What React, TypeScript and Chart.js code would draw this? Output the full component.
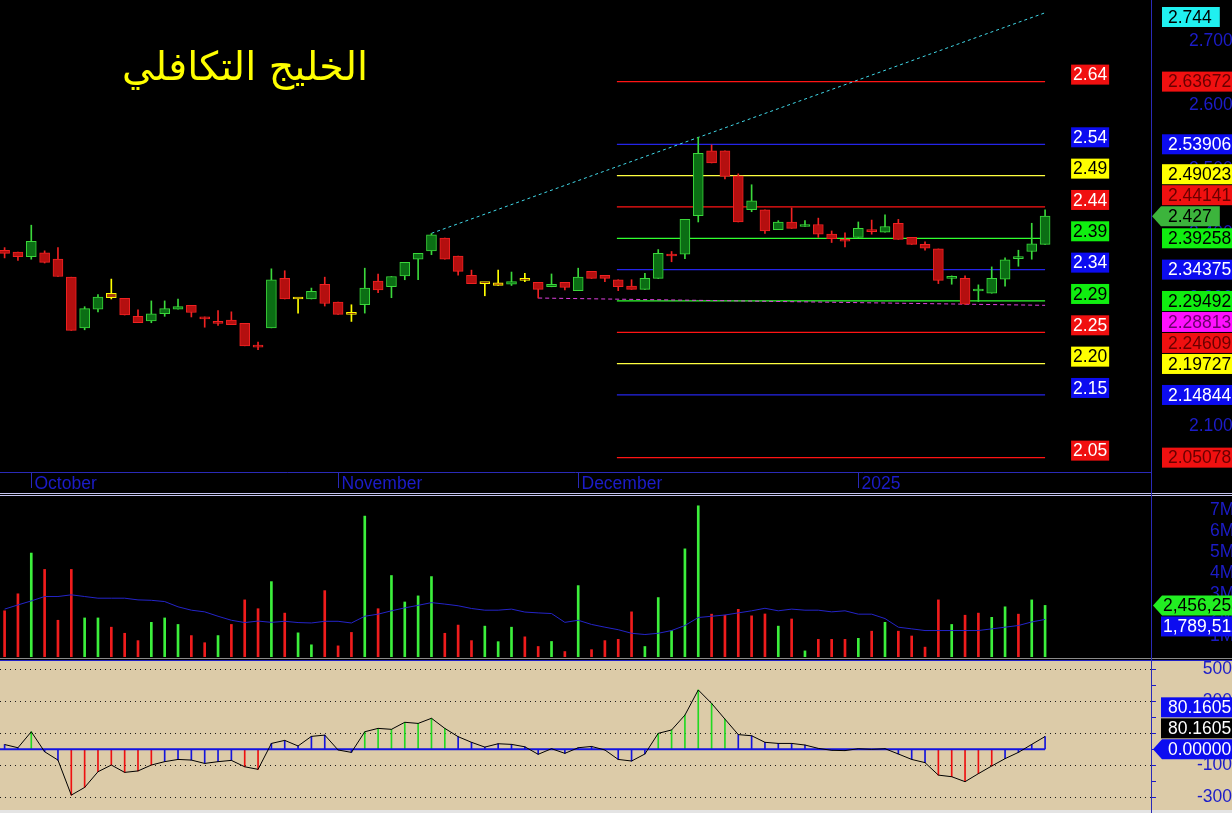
import React, { useEffect, useRef } from "react";
import { Chart, registerables } from "chart.js";

Chart.register(...registerables);

// ---------------- data ----------------
const TITLE = "الخليج التكافلي";
const MONTH_TICKS = [2, 25, 43, 64];
const MONTH_LABELS = ["October", "November", "December", "2025"];

const OPEN = [2.374, 2.371, 2.364, 2.370, 2.360, 2.332, 2.253, 2.282, 2.307, 2.299,
  2.271, 2.264, 2.275, 2.282, 2.288, 2.270, 2.261, 2.265, 2.260, 2.224,
  2.253, 2.330, 2.298, 2.298, 2.321, 2.293, 2.274, 2.289, 2.326, 2.317,
  2.334, 2.360, 2.373, 2.393, 2.365, 2.335, 2.322, 2.323, 2.321, 2.327,
  2.324, 2.317, 2.324, 2.311, 2.341, 2.335, 2.328, 2.318, 2.313, 2.330,
  2.368, 2.368, 2.428, 2.529, 2.529, 2.490, 2.437, 2.437, 2.406, 2.418,
  2.411, 2.414, 2.399, 2.391, 2.394, 2.406, 2.402, 2.416, 2.394, 2.383,
  2.376, 2.330, 2.330, 2.3105, 2.307, 2.329, 2.361, 2.372, 2.383];
const HIGH = [2.378, 2.371, 2.413, 2.373, 2.378, 2.332, 2.286, 2.305, 2.329, 2.299,
  2.281, 2.295, 2.295, 2.298, 2.288, 2.270, 2.280, 2.278, 2.260, 2.231,
  2.345, 2.342, 2.298, 2.315, 2.332, 2.293, 2.289, 2.346, 2.337, 2.333,
  2.355, 2.369, 2.400, 2.393, 2.365, 2.343, 2.322, 2.343, 2.340, 2.338,
  2.324, 2.337, 2.324, 2.346, 2.341, 2.335, 2.328, 2.328, 2.338, 2.375,
  2.372, 2.422, 2.550, 2.538, 2.529, 2.493, 2.476, 2.437, 2.420, 2.440,
  2.420, 2.424, 2.404, 2.401, 2.418, 2.421, 2.429, 2.422, 2.394, 2.387,
  2.376, 2.334, 2.334, 2.320, 2.348, 2.362, 2.374, 2.416, 2.437];
const LOW = [2.362, 2.358, 2.360, 2.354, 2.333, 2.249, 2.250, 2.278, 2.298, 2.273,
  2.261, 2.261, 2.271, 2.282, 2.270, 2.254, 2.257, 2.258, 2.225, 2.219,
  2.253, 2.298, 2.276, 2.298, 2.287, 2.274, 2.263, 2.276, 2.308, 2.300,
  2.328, 2.328, 2.367, 2.360, 2.335, 2.322, 2.303, 2.319, 2.319, 2.325,
  2.2995, 2.317, 2.312, 2.311, 2.330, 2.325, 2.311, 2.313, 2.313, 2.330,
  2.356, 2.361, 2.418, 2.510, 2.485, 2.418, 2.434, 2.400, 2.406, 2.408,
  2.411, 2.394, 2.386, 2.379, 2.394, 2.399, 2.402, 2.391, 2.383, 2.374,
  2.322, 2.321, 2.2895, 2.294, 2.307, 2.318, 2.349, 2.360, 2.383];
const CLOSE = [2.369, 2.364, 2.388, 2.355, 2.333, 2.249, 2.283, 2.301, 2.300, 2.273,
  2.261, 2.275, 2.283, 2.286, 2.277, 2.267, 2.260, 2.258, 2.225, 2.223,
  2.328, 2.298, 2.298, 2.310, 2.291, 2.274, 2.274, 2.315, 2.312, 2.333,
  2.355, 2.369, 2.398, 2.360, 2.341, 2.322, 2.322, 2.319, 2.325, 2.327,
  2.313, 2.321, 2.316, 2.332, 2.330, 2.330, 2.317, 2.313, 2.330, 2.369,
  2.365, 2.422, 2.525, 2.510, 2.489, 2.418, 2.451, 2.404, 2.418, 2.408,
  2.413, 2.399, 2.392, 2.388, 2.408, 2.403, 2.411, 2.391, 2.383, 2.377,
  2.327, 2.330, 2.290, 2.311, 2.330, 2.359, 2.3615, 2.384, 2.427];
// g = up, r = down, y = unchanged
const CANDLE_KIND = ("rrgrrrggyr" + "rgggrrrrrr" + "grygrrygrg" + "gggrrryygy" +
  "rgrgrrrrgg" + "rggrrrgrgr" + "grrrgrgrrr" + "rgrgggggg").split("");

// volume in millions
const VOLUME = [2.20, 3.01, 4.95, 4.17, 1.75, 4.17, 1.86, 1.86, 1.42, 1.13,
  0.78, 1.65, 1.86, 1.55, 1.02, 0.68, 1.02, 1.55, 2.72, 2.30,
  3.59, 2.09, 1.15, 0.58, 3.16, 0.53, 1.17, 6.71, 2.30, 3.88,
  2.62, 2.91, 3.83, 1.13, 1.52, 0.78, 1.47, 0.73, 1.42, 0.96,
  0.50, 0.74, 0.26, 3.40, 0.35, 0.78, 0.84, 2.15, 0.50, 2.83,
  1.26, 5.15, 7.20, 2.04, 1.99, 2.27, 1.96, 2.05, 1.47, 1.81,
  0.29, 0.84, 0.84, 0.84, 0.89, 1.23, 1.65, 1.23, 1.00, 0.47,
  2.72, 1.55, 1.99, 2.09, 1.89, 2.39, 2.04, 2.72, 2.456253];
const VOLUME_DIR = ("rrgrrrggrr" + "rgggrrgrrr" + "grggrrrgrg" + "gggrrrgggr" +
  "rgrgrrrrgg" + "gggrrrrrgr" + "grrrgrgrrr" + "rgrrggrgg").split("");
const VOLUME_MA = [2.28, 2.48, 2.67, 2.88, 2.88, 2.96, 2.88, 2.80, 2.80, 2.80,
  2.72, 2.70, 2.64, 2.39, 2.23, 2.15, 1.94, 1.75, 1.64, 1.71,
  1.65, 1.70, 1.64, 1.62, 1.70, 1.70, 1.62, 1.94, 2.04, 2.20,
  2.34, 2.46, 2.59, 2.52, 2.44, 2.31, 2.23, 2.23, 2.28, 2.14,
  2.10, 2.07, 1.65, 1.75, 1.55, 1.42, 1.30, 1.13, 1.07, 1.13,
  1.26, 1.50, 1.88, 1.94, 2.00, 2.10, 2.20, 2.32, 2.20, 2.28,
  2.23, 2.23, 2.15, 2.20, 2.04, 2.04, 1.83, 1.42, 1.34, 1.26,
  1.26, 1.26, 1.26, 1.26, 1.34, 1.42, 1.50, 1.67, 1.789512];

const OSC = [30, 10, 110, -15, -67, -286, -238, -140, -98, -144,
  -135, -98, -77, -63, -67, -88, -77, -69, -109, -125,
  37, 56, 21, 81, 89, -4, -19, 110, 131, 125,
  169, 162, 194, 131, 79, 44, 14, 35, 31, 16,
  -31, 4, -25, 10, 18, -4, -63, -73, -29, 100,
  121, 214, 371, 287, 189, 92, 85, 44, 37, 37,
  27, 6, -6, -8, 4, 0, 4, -29, -63, -83,
  -161, -171, -202, -152, -104, -58, -19, 31, 80.1605];
const OSC_SIGNAL_LAST = 80.1605;
const OSC_THRESHOLD = 95;

const FIB_LEVELS = [2.63672, 2.53906, 2.49023, 2.44141, 2.39258, 2.34375, 2.29492, 2.24609, 2.19727, 2.14844, 2.05078];
const FIB_SHORT = ["2.64", "2.54", "2.49", "2.44", "2.39", "2.34", "2.29", "2.25", "2.20", "2.15", "2.05"];
const FIB_TONE = ["red", "blue", "yellow", "red", "green", "blue", "green", "red", "yellow", "blue", "red"];
const FIB_X = [45.9, 78];
const FIB_LABEL_AT = 79.95;

const TREND_UP_X = [32, 78];
const TREND_UP_Y = [2.4003, 2.744];
const TREND_DOWN_X = [40, 78];
const TREND_DOWN_Y = [2.2995, 2.28813];

const PRICE_TICKS = [2.1, 2.2, 2.3, 2.4, 2.5, 2.6, 2.7];
const VOLUME_TICKS = [1, 2, 3, 4, 5, 6, 7];
const OSC_TICKS = [-300, -200, -100, 0, 100, 200, 300, 400, 500];
const OSC_GRID = [500, 300, 100, -100, -300];

// ---------------- style / layout ----------------
const W = 1232;
const AXIS_W = 81;
const FONT = '"Liberation Sans", Arial, sans-serif';
const AXIS_BLUE = "#1c1cc8";
const FRAME_BLUE = "#2a2ab8";
const X_MIN = -0.345;
const X_MAX = 85.94;
const P_MIN = 2.0284;
const P_MAX = 2.7639;
const V_MAX = 7.667;
const O_MIN = -379;
const O_MAX = 552;

const CANDLE_COLORS: any = {
  g: { fill: "#0b6e14", edge: "#3bd83b" },
  r: { fill: "#b40f0f", edge: "#f02222" },
  y: { fill: "#a8400c", edge: "#ffff00" },
};
const TONES: any = {
  red: { line: "#ff1414", box: "#f01010", shortText: "#ffffff", axisText: "#6a0000" },
  blue: { line: "#2424e8", box: "#0c0cf0", shortText: "#ffffff", axisText: "#ffffff" },
  yellow: { line: "#ffff40", box: "#ffff00", shortText: "#000000", axisText: "#000000" },
  green: { line: "#30ff30", box: "#10ee10", shortText: "#000000", axisText: "#000000" },
};

const IDX = OPEN.map((_, i) => i);
const LAST = IDX.length - 1;

type Marker = { value: number; text: string; bg: string; fg: string; arrow?: boolean };

function placeMarkers(ys: number[], anchorIdx: number, gap: number, minCenter: number) {
  const order = ys.map((y, k) => ({ y, k })).sort((a, b) => a.y - b.y);
  const pos = order.map((o) => o.y);
  const ai = order.findIndex((o) => o.k === anchorIdx);
  if (ai >= 0) {
    for (let j = ai + 1; j < pos.length; j++) pos[j] = Math.max(pos[j], pos[j - 1] + gap);
    for (let j = ai - 1; j >= 0; j--) pos[j] = Math.min(pos[j], pos[j + 1] - gap);
  } else {
    for (let j = 1; j < pos.length; j++) pos[j] = Math.max(pos[j], pos[j - 1] + gap);
  }
  if (pos.length && pos[0] < minCenter) {
    pos[0] = minCenter;
    for (let j = 1; j < pos.length; j++) pos[j] = Math.max(pos[j], pos[j - 1] + gap);
  }
  const out: number[] = new Array(ys.length);
  order.forEach((o, j) => (out[o.k] = pos[j]));
  return out;
}

function drawMarkers(ctx: any, yScale: any, markers: Marker[], o: any) {
  const ys = markers.map((m) => yScale.getPixelForValue(m.value));
  const anchor = markers.findIndex((m) => m.arrow);
  const centers = placeMarkers(ys, anchor, o.gap, o.minCenter);
  ctx.save();
  ctx.font = `17.5px ${FONT}`;
  ctx.textBaseline = "middle";
  ctx.textAlign = "left";
  markers.forEach((m, k) => {
    const cy = centers[k];
    const h = 20;
    const tw = ctx.measureText(m.text).width;
    const right = o.textX + tw + 8;
    ctx.fillStyle = m.bg;
    if (m.arrow) {
      ctx.beginPath();
      ctx.moveTo(o.arrowTip, cy);
      ctx.lineTo(o.arrowTip + 9, cy - h / 2);
      ctx.lineTo(right, cy - h / 2);
      ctx.lineTo(right, cy + h / 2);
      ctx.lineTo(o.arrowTip + 9, cy + h / 2);
      ctx.closePath();
      ctx.fill();
    } else {
      ctx.fillRect(o.boxLeft, cy - h / 2, right - o.boxLeft, h);
    }
    ctx.fillStyle = m.fg;
    ctx.fillText(m.text, o.textX, cy + 1);
  });
  ctx.restore();
}

const xAxis: any = { type: "linear", min: X_MIN, max: X_MAX, display: false, offset: false };

function rightAxis(min: number, max: number, ticks: number[], fmt: (v: number) => string, extra: any) {
  return {
    type: "linear",
    position: "right",
    min,
    max,
    border: { display: false },
    grid: { display: false, drawTicks: false },
    ...extra,
    ticks: {
      color: AXIS_BLUE,
      font: { family: FONT, size: 17.5 },
      autoSkip: false,
      callback: (v: any) => fmt(Number(v)),
      ...(extra.ticks || {}),
    },
    afterBuildTicks: (s: any) => {
      s.ticks = ticks.map((v) => ({ value: v }));
    },
    afterFit: (s: any) => {
      s.width = AXIS_W;
      s.paddingTop = 0;
      s.paddingBottom = 0;
    },
  };
}

function priceConfig(): any {
  const datasets: any[] = [
    {
      type: "bar",
      data: IDX.map((i) => ({ x: i, y: [OPEN[i], CLOSE[i]] })),
      backgroundColor: CANDLE_KIND.map((k) => CANDLE_COLORS[k].fill),
      borderColor: CANDLE_KIND.map((k) => CANDLE_COLORS[k].edge),
      borderWidth: 1,
      borderSkipped: false,
      barThickness: 10,
      minBarLength: 2,
      grouped: false,
      order: 0,
    },
    {
      type: "bar",
      data: IDX.map((i) => ({ x: i, y: [LOW[i], HIGH[i]] })),
      backgroundColor: CANDLE_KIND.map((k) => CANDLE_COLORS[k].edge),
      barThickness: 1,
      grouped: false,
      order: 1,
    },
    {
      type: "line",
      data: TREND_UP_X.map((x, k) => ({ x, y: TREND_UP_Y[k] })),
      borderColor: "#40d8e8",
      borderWidth: 1,
      borderDash: [3, 3],
      pointRadius: 0,
      order: 2,
    },
    {
      type: "line",
      data: TREND_DOWN_X.map((x, k) => ({ x, y: TREND_DOWN_Y[k] })),
      borderColor: "#e040e0",
      borderWidth: 1,
      borderDash: [4, 3],
      pointRadius: 0,
      order: 3,
    },
    ...FIB_LEVELS.map((lvl, k) => ({
      type: "line",
      data: FIB_X.map((x) => ({ x, y: lvl })),
      borderColor: TONES[FIB_TONE[k]].line,
      borderWidth: 1.2,
      pointRadius: 0,
      order: 4,
    })),
  ];

  const decor = {
    id: "priceDecor",
    afterDraw(chart: any) {
      const { ctx, chartArea, scales } = chart;
      const xs = scales.x;
      const ys = scales.y;
      ctx.save();
      // bottom frame line
      ctx.strokeStyle = FRAME_BLUE;
      ctx.lineWidth = 1;
      ctx.beginPath();
      ctx.moveTo(chartArea.left, chartArea.bottom + 0.5);
      ctx.lineTo(chartArea.right, chartArea.bottom + 0.5);
      ctx.stroke();
      // month ticks and labels
      ctx.font = `17.5px ${FONT}`;
      ctx.fillStyle = AXIS_BLUE;
      ctx.textAlign = "left";
      ctx.textBaseline = "alphabetic";
      MONTH_TICKS.forEach((m, k) => {
        const px = Math.round(xs.getPixelForValue(m)) + 0.5;
        ctx.beginPath();
        ctx.moveTo(px, chartArea.bottom);
        ctx.lineTo(px, chartArea.bottom + 16);
        ctx.stroke();
        ctx.fillText(MONTH_LABELS[k], px + 3, chartArea.bottom + 17);
      });
      // title
      let size = 36;
      ctx.font = `${size}px "DejaVu Sans"`;
      const tw = ctx.measureText(TITLE).width;
      size = (size * 246) / tw;
      ctx.font = `${size}px "DejaVu Sans"`;
      ctx.fillStyle = "#ffff00";
      ctx.textAlign = "right";
      ctx.fillText(TITLE, 368, 80);
      // fib short labels
      ctx.font = `17.5px ${FONT}`;
      ctx.textAlign = "left";
      ctx.textBaseline = "middle";
      const lx = xs.getPixelForValue(FIB_LABEL_AT);
      FIB_LEVELS.forEach((lvl, k) => {
        const y = ys.getPixelForValue(lvl);
        const t = TONES[FIB_TONE[k]];
        const w = ctx.measureText(FIB_SHORT[k]).width + 4;
        ctx.fillStyle = t.box;
        ctx.fillRect(lx, y - 17, w, 20);
        ctx.fillStyle = t.shortText;
        ctx.fillText(FIB_SHORT[k], lx + 2, y - 6);
      });
      ctx.restore();
      // right axis markers
      const markers: Marker[] = [
        { value: TREND_UP_Y[1], text: TREND_UP_Y[1].toFixed(3), bg: "#20f0f0", fg: "#000" },
        ...FIB_LEVELS.map((lvl, k) => ({
          value: lvl,
          text: lvl.toFixed(5),
          bg: TONES[FIB_TONE[k]].box,
          fg: TONES[FIB_TONE[k]].axisText,
        })),
        { value: TREND_DOWN_Y[1], text: TREND_DOWN_Y[1].toFixed(5), bg: "#ff10ff", fg: "#6a006a" },
        { value: CLOSE[LAST], text: CLOSE[LAST].toFixed(3), bg: "#3cb43c", fg: "#000", arrow: true },
      ];
      drawMarkers(ctx, ys, markers, {
        gap: 21,
        minCenter: chartArea.top + 17,
        boxLeft: chartArea.right + 11,
        textX: chartArea.right + 17,
        arrowTip: chartArea.right + 1,
      });
    },
  };

  return {
    type: "bar",
    data: { datasets },
    options: {
      responsive: false,
      animation: false,
      layout: { padding: { left: 0, right: 0, top: 0, bottom: 20 } },
      plugins: { legend: { display: false }, tooltip: { enabled: false } },
      scales: {
        x: xAxis,
        y: rightAxis(P_MIN, P_MAX, PRICE_TICKS, (v) => v.toFixed(3), { ticks: { padding: 38, crossAlign: "near" } }),
      },
    },
    plugins: [decor],
  };
}

function volumeConfig(): any {
  const decor = {
    id: "volDecor",
    afterDraw(chart: any) {
      const { ctx, chartArea, scales } = chart;
      const fmt = (v: number) => Math.round(v * 1e6).toLocaleString("en-US");
      drawMarkers(ctx, scales.y, [
        { value: VOLUME[LAST], text: fmt(VOLUME[LAST]), bg: "#22ee22", fg: "#000", arrow: true },
        { value: VOLUME_MA[LAST], text: fmt(VOLUME_MA[LAST]), bg: "#0c0cf0", fg: "#fff" },
      ], {
        gap: 21,
        minCenter: chartArea.top + 10,
        boxLeft: chartArea.right + 10,
        textX: chartArea.right + 12,
        arrowTip: chartArea.right + 2,
      });
    },
  };
  return {
    type: "bar",
    data: {
      datasets: [
        {
          type: "line",
          data: IDX.map((i) => ({ x: i, y: VOLUME_MA[i] })),
          borderColor: "#2424c8",
          borderWidth: 1,
          pointRadius: 0,
          order: 0,
        },
        {
          type: "bar",
          data: IDX.map((i) => ({ x: i, y: VOLUME[i] })),
          backgroundColor: VOLUME_DIR.map((d) => (d === "g" ? "#3cf03c" : "#f01c1c")),
          barThickness: 2,
          grouped: false,
          order: 1,
        },
      ],
    },
    options: {
      responsive: false,
      animation: false,
      layout: { padding: 0 },
      plugins: { legend: { display: false }, tooltip: { enabled: false } },
      scales: {
        x: xAxis,
        y: rightAxis(0, V_MAX, VOLUME_TICKS, (v) => `${v}M`, { ticks: { padding: 59, crossAlign: "near" } }),
      },
    },
    plugins: [decor],
  };
}

function oscConfig(): any {
  const decor = {
    id: "oscDecor",
    beforeDatasetsDraw(chart: any) {
      const { ctx, chartArea, scales } = chart;
      ctx.save();
      ctx.strokeStyle = "#1a1a1a";
      ctx.lineWidth = 1;
      ctx.setLineDash([1, 4]);
      OSC_GRID.forEach((v) => {
        const y = Math.round(scales.y.getPixelForValue(v)) + 0.5;
        ctx.beginPath();
        ctx.moveTo(chartArea.left, y);
        ctx.lineTo(chartArea.right, y);
        ctx.stroke();
      });
      ctx.restore();
    },
    afterDraw(chart: any) {
      const { ctx, chartArea, scales } = chart;
      drawMarkers(ctx, scales.y, [
        { value: OSC_SIGNAL_LAST, text: OSC_SIGNAL_LAST.toFixed(4), bg: "#0c0cf0", fg: "#fff" },
        { value: OSC[LAST], text: OSC[LAST].toFixed(4), bg: "#000", fg: "#fff" },
        { value: 0, text: (0).toFixed(5), bg: "#0c0cf0", fg: "#fff", arrow: true },
      ], {
        gap: 21,
        minCenter: chartArea.top + 10,
        boxLeft: chartArea.right + 10,
        textX: chartArea.right + 17,
        arrowTip: chartArea.right + 2,
      });
    },
  };
  return {
    type: "bar",
    data: {
      datasets: [
        {
          type: "line",
          data: IDX.map((i) => ({ x: i, y: OSC[i] })),
          borderColor: "#000000",
          borderWidth: 1,
          pointRadius: 0,
          order: 0,
        },
        {
          type: "line",
          data: [{ x: -1, y: 0 }, { x: LAST, y: 0 }],
          borderColor: "#1414e0",
          borderWidth: 2,
          pointRadius: 0,
          order: 1,
        },
        {
          type: "bar",
          data: IDX.map((i) => ({ x: i, y: OSC[i] })),
          backgroundColor: OSC.map((v) => (v >= OSC_THRESHOLD ? "#22d822" : v <= -OSC_THRESHOLD ? "#ee1010" : "#1414dc")),
          barThickness: 1,
          grouped: false,
          order: 2,
        },
      ],
    },
    options: {
      responsive: false,
      animation: false,
      layout: { padding: 0 },
      plugins: { legend: { display: false }, tooltip: { enabled: false } },
      scales: {
        x: xAxis,
        y: rightAxis(O_MIN, O_MAX, OSC_TICKS, (v) => (OSC_GRID.includes(v) ? String(v) : ""), {
          grid: { display: true, drawOnChartArea: false, drawTicks: true, tickLength: 5, color: AXIS_BLUE },
          ticks: { padding: 42, crossAlign: "far" },
        }),
      },
    },
    plugins: [decor],
  };
}

export default function App() {
  const priceRef = useRef<HTMLCanvasElement>(null);
  const volRef = useRef<HTMLCanvasElement>(null);
  const oscRef = useRef<HTMLCanvasElement>(null);

  useEffect(() => {
    document.body.style.margin = "0";
    document.body.style.background = "#000";
    document.body.style.overflow = "hidden";
    const charts = [
      new Chart(priceRef.current as HTMLCanvasElement, priceConfig()),
      new Chart(volRef.current as HTMLCanvasElement, volumeConfig()),
      new Chart(oscRef.current as HTMLCanvasElement, oscConfig()),
    ];
    return () => charts.forEach((c) => c.destroy());
  }, []);

  const abs = (top: number, height: number, extra: any = {}) => ({
    position: "absolute" as const, left: 0, top, width: W, height, display: "block", ...extra,
  });

  return (
    <div style={{ position: "absolute", left: 0, top: 0, width: W, height: 813, background: "#000", overflow: "hidden" }}>
      <canvas ref={priceRef} width={W} height={492} style={abs(0, 492)} />
      <div style={abs(493, 1, { background: "#c4c4f0" })} />
      <div style={abs(495, 1, { background: "#c4c4f0" })} />
      <canvas ref={volRef} width={W} height={161} style={abs(496, 161)} />
      <div style={abs(658, 1, { background: "#8a8a8a" })} />
      <div style={abs(660, 1, { background: "#2020c8" })} />
      <canvas ref={oscRef} width={W} height={149} style={abs(661, 149, { background: "#dccba8" })} />
      <div style={abs(810, 3, { background: "#e4e4e4" })} />
      <div style={{ position: "absolute", left: 1151, top: 0, width: 1, height: 813, background: FRAME_BLUE }} />
    </div>
  );
}
